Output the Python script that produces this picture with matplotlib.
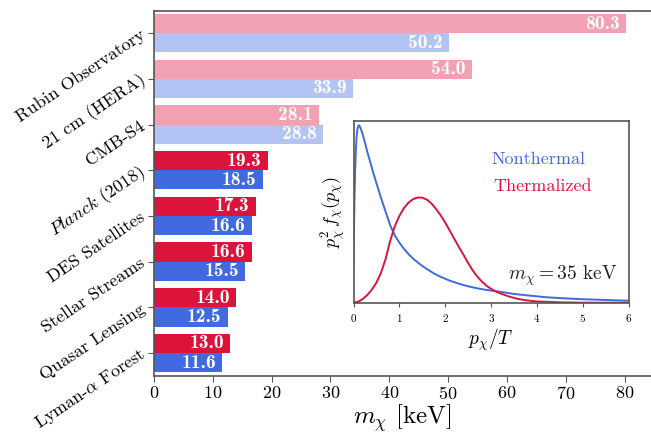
import matplotlib
matplotlib.use("Agg")
import matplotlib.pyplot as plt
import numpy as np

plt.rcParams['font.family'] = 'serif'
plt.rcParams['font.serif'] = ['cmr10', 'DejaVu Serif']
plt.rcParams['mathtext.fontset'] = 'cm'
plt.rcParams['axes.formatter.use_mathtext'] = True

# ---- data ----
categories = ['Rubin Observatory', '21 cm (HERA)', 'CMB-S4', r'$Planck$ (2018)',
              'DES Satellites', 'Stellar Streams', 'Quasar Lensing', r'Lyman-$\alpha$ Forest']
thermalized = [80.3, 54.0, 28.1, 19.3, 17.3, 16.6, 14.0, 13.0]
nonthermal = [50.2, 33.9, 28.8, 18.5, 16.6, 15.5, 12.5, 11.6]
projected = [True, True, True, False, False, False, False, False]
xticks = [0, 10, 20, 30, 40, 50, 60, 70, 80]

# inset curves (arbitrary units)
p_nonthermal = [0.0, 0.01, 0.02, 0.035, 0.05, 0.07, 0.09, 0.11, 0.13, 0.16, 0.2, 0.25, 0.3,
                0.36, 0.43, 0.51, 0.6, 0.7, 0.8, 0.9, 1.0, 1.1, 1.2, 1.3, 1.4, 1.5, 1.6, 1.75,
                1.9, 2.1, 2.3, 2.5, 2.7, 2.9, 3.2, 3.5, 3.8, 4.2, 4.6, 5.0, 5.5, 6.0]
f_nonthermal = [0.207, 0.40, 0.55, 0.72, 0.83, 0.92, 0.96, 0.975, 0.972, 0.955, 0.925, 0.88,
                0.83, 0.777, 0.715, 0.648, 0.575, 0.5, 0.425, 0.37, 0.33, 0.296, 0.267, 0.242,
                0.221, 0.202, 0.185, 0.161, 0.142, 0.121, 0.104, 0.09, 0.079, 0.07, 0.06, 0.048,
                0.04, 0.03, 0.024, 0.019, 0.015, 0.011]
p_thermal = [0.0, 0.1, 0.2, 0.3, 0.4, 0.5, 0.6, 0.7, 0.8, 0.9, 1.0, 1.1, 1.2, 1.3, 1.4, 1.5,
             1.6, 1.7, 1.8, 1.9, 2.0, 2.1, 2.2, 2.3, 2.4, 2.5, 2.6, 2.7, 2.8, 2.9, 3.0, 3.1,
             3.2, 3.4, 3.6, 3.8, 4.0, 4.5, 5.0, 6.0]
f_thermal = [0.0, 0.005, 0.02, 0.042, 0.072, 0.11, 0.165, 0.24, 0.34, 0.42, 0.477, 0.52, 0.55,
             0.569, 0.578, 0.577, 0.566, 0.545, 0.515, 0.48, 0.44, 0.395, 0.35, 0.305, 0.262,
             0.218, 0.177, 0.143, 0.116, 0.093, 0.076, 0.062, 0.051, 0.033, 0.02, 0.012, 0.007,
             0.002, 0.0, 0.0]
inset_xticks = [0, 1, 2, 3, 4, 5, 6]

red = '#DC143C'
blue = '#4169E1'
spine_c = '#555555'

fig = plt.figure(figsize=(6.51, 4.33), dpi=100)
ax = fig.add_axes([154/651, 57.5/433, 1 - 154/651, 364.8/433])

n = len(categories)
ypos = np.arange(n)[::-1]
h = 0.42
for i in range(n):
    a = 0.4 if projected[i] else 1.0
    ax.barh(ypos[i] + h/2, thermalized[i], height=h, color=red, alpha=a, linewidth=0)
    ax.barh(ypos[i] - h/2, nonthermal[i], height=h, color=blue, alpha=a, linewidth=0)
    ax.annotate(f'{thermalized[i]:.1f}', xy=(thermalized[i], ypos[i] + h/2), xytext=(-4.5, 0),
                textcoords='offset points', ha='right', va='center', color='white',
                fontsize=14, fontfamily='cmb10')
    ax.annotate(f'{nonthermal[i]:.1f}', xy=(nonthermal[i], ypos[i] - h/2), xytext=(-4.5, 0),
                textcoords='offset points', ha='right', va='center', color='white',
                fontsize=14, fontfamily='cmb10')

ax.set_ylim(-0.49, n - 0.51)
ax.set_xlim(0, 84.5)
ax.set_yticks(ypos)
ax.set_yticklabels(categories, rotation=34, ha='right', va='center', rotation_mode='anchor',
                   fontsize=13)
ax.set_xticks(xticks)
ax.tick_params(axis='x', labelsize=13, direction='out', length=4, color=spine_c, pad=3)
ax.tick_params(axis='y', direction='out', length=4, color=spine_c)
ax.set_xlabel(r'$m_\chi$ [keV]', fontsize=18, labelpad=0)
for s in ['left', 'bottom', 'top']:
    ax.spines[s].set_color(spine_c)
    ax.spines[s].set_linewidth(1.2)
ax.spines['right'].set_visible(False)

# inset
ins = fig.add_axes([353.5/651, (433 - 302.7)/433, 275.2/651, 182/433])
ins.plot(p_nonthermal, f_nonthermal, color=blue, lw=1.4)
ins.plot(p_thermal, f_thermal, color=red, lw=1.4)
ins.set_xlim(0, 6)
ins.set_ylim(0, 1.0)
ins.set_xticks(inset_xticks)
ins.set_yticks([])
ins.tick_params(axis='x', labelsize=8, direction='out', length=3, color=spine_c)
for s in ins.spines.values():
    s.set_color(spine_c)
    s.set_linewidth(1.2)
ins.set_xlabel(r'$p_\chi/T$', fontsize=14, labelpad=2)
ins.set_ylabel(r'$p_\chi^2\, f_\chi(p_\chi)$', fontsize=13, labelpad=4)
ins.text(0.50, 0.79, 'Nonthermal', color=blue, fontsize=13, transform=ins.transAxes,
         ha='left', va='center')
ins.text(0.507, 0.637, 'Thermalized', color=red, fontsize=13, transform=ins.transAxes,
         ha='left', va='center')
ins.text(0.96, 0.15, r'$m_\chi = 35$ keV', color='#222222', fontsize=14,
         transform=ins.transAxes, ha='right', va='center')

fig.savefig('out.png', dpi=100)
